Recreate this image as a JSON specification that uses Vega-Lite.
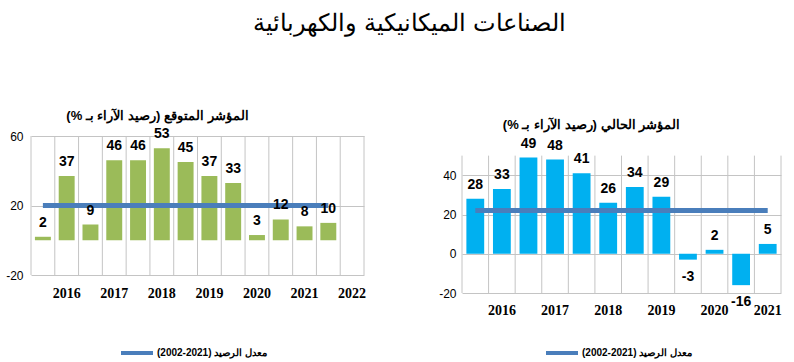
{
  "$schema": "https://vega.github.io/schema/vega-lite/v6.json",
  "padding": {"left": 5, "top": 12, "right": 5, "bottom": 0},
  "background": "white",
  "title": {"text": "الصناعات الميكانيكية والكهربائية", "font": "Liberation Sans", "fontSize": 24, "fontWeight": "normal", "color": "#000", "anchor": "middle", "offset": 74, "dx": 16},
  "config": {
    "view": {"stroke": null},
    "axis": {"domain": false, "ticks": false, "gridColor": "#c4c4c4", "gridWidth": 1, "labelColor": "#000"},
    "axisX": {"grid": false, "labelFont": "Liberation Serif", "labelFontSize": 14, "labelFontWeight": "bold", "labelAngle": 0},
    "axisY": {"grid": true, "labelFont": "Liberation Sans", "labelFontSize": 12, "labelPadding": 8, "labelOverlap": false}
  },
  "resolve": {"scale": {"color": "independent"}, "legend": {"color": "independent"}},
  "spacing": 72,
  "hconcat": [
    {
      "width": 333,
      "height": 139,
      "title": {"text": "‫المؤشر المتوقع (رصيد الآراء بـ %)‬", "font": "Liberation Sans", "fontSize": 13, "fontWeight": "bold", "color": "#000", "anchor": "middle", "frame": "group", "offset": 4, "dx": -40},
      "data": {"values": [
        {"period": "2015 S2", "value": 2, "avg": 20, "series": "معدل الرصيد (\u20662002-2021\u2069)\u200f"},
        {"period": "2016 S1", "value": 37, "avg": 20, "series": "معدل الرصيد (\u20662002-2021\u2069)\u200f"},
        {"period": "2016 S2", "value": 9, "avg": 20, "series": "معدل الرصيد (\u20662002-2021\u2069)\u200f"},
        {"period": "2017 S1", "value": 46, "avg": 20, "series": "معدل الرصيد (\u20662002-2021\u2069)\u200f"},
        {"period": "2017 S2", "value": 46, "avg": 20, "series": "معدل الرصيد (\u20662002-2021\u2069)\u200f"},
        {"period": "2018 S1", "value": 53, "avg": 20, "series": "معدل الرصيد (\u20662002-2021\u2069)\u200f"},
        {"period": "2018 S2", "value": 45, "avg": 20, "series": "معدل الرصيد (\u20662002-2021\u2069)\u200f"},
        {"period": "2019 S1", "value": 37, "avg": 20, "series": "معدل الرصيد (\u20662002-2021\u2069)\u200f"},
        {"period": "2019 S2", "value": 33, "avg": 20, "series": "معدل الرصيد (\u20662002-2021\u2069)\u200f"},
        {"period": "2020 S1", "value": 3, "avg": 20, "series": "معدل الرصيد (\u20662002-2021\u2069)\u200f"},
        {"period": "2020 S2", "value": 12, "avg": 20, "series": "معدل الرصيد (\u20662002-2021\u2069)\u200f"},
        {"period": "2021 S1", "value": 8, "avg": 20, "series": "معدل الرصيد (\u20662002-2021\u2069)\u200f"},
        {"period": "2021 S2", "value": 10, "avg": 20, "series": "معدل الرصيد (\u20662002-2021\u2069)\u200f"}
      ]},
      "encoding": {
        "x": {"field": "period", "type": "ordinal", "sort": null, "title": null,
          "scale": {"domain": ["2015 S2", "2016 S1", "2016 S2", "2017 S1", "2017 S2", "2018 S1", "2018 S2", "2019 S1", "2019 S2", "2020 S1", "2020 S2", "2021 S1", "2021 S2", "2022 S1"], "paddingInner": 0, "paddingOuter": 0},
          "axis": {"labelExpr": "indexof(datum.value, 'S1') > 0 ? slice(datum.value, 0, 4) : ''", "labelPadding": 11}}
      },
      "layer": [
        {"data": {"values": [{"period": "2015 S2"}, {"period": "2016 S1"}, {"period": "2016 S2"}, {"period": "2017 S1"}, {"period": "2017 S2"}, {"period": "2018 S1"}, {"period": "2018 S2"}, {"period": "2019 S1"}, {"period": "2019 S2"}, {"period": "2020 S1"}, {"period": "2020 S2"}, {"period": "2021 S1"}, {"period": "2021 S2"}, {"period": "2022 S1"}]},
         "mark": {"type": "rule", "color": "#c4c4c4", "strokeWidth": 1},
         "encoding": {"x": {"field": "period", "type": "ordinal", "sort": null, "bandPosition": 0, "title": null}, "y": {"datum": -20, "type": "quantitative"}, "y2": {"datum": 60}}},
        {"data": {"values": [{"period": "2022 S1"}]},
         "mark": {"type": "rule", "color": "#c4c4c4", "strokeWidth": 1},
         "encoding": {"x": {"field": "period", "type": "ordinal", "sort": null, "bandPosition": 1, "title": null}, "y": {"datum": -20, "type": "quantitative"}, "y2": {"datum": 60}}},
        {"mark": {"type": "bar", "color": "#9bbb59", "width": {"band": 0.67}},
         "encoding": {"y": {"field": "value", "type": "quantitative", "title": null, "scale": {"domain": [-20, 60]}, "axis": {"values": [-20, -10, 0, 10, 20, 30, 40, 50, 60], "labelExpr": "'' + datum.value", "labelOverlap": false, "title": null}}}},
        {"mark": {"type": "line", "strokeWidth": 5, "strokeCap": "butt"},
         "encoding": {"y": {"field": "avg", "type": "quantitative", "title": null, "axis": {"values": [-20, -10, 0, 10, 20, 30, 40, 50, 60], "labelExpr": "'' + datum.value", "labelOverlap": false, "title": null}},
           "color": {"field": "series", "type": "nominal", "scale": {"range": ["#4a7ebb"]},
             "legend": {"orient": "none", "legendX": 88, "legendY": 199, "title": null, "symbolType": "stroke", "symbolSize": 1024, "symbolStrokeWidth": 4, "labelFont": "Liberation Sans", "labelFontSize": 10, "labelFontWeight": "bold", "labelColor": "#000", "labelOffset": 2, "labelLimit": 300}}}},
        {"transform": [{"filter": "datum.value >= 0"}],
         "mark": {"type": "text", "font": "Liberation Sans", "fontSize": 14, "fontWeight": "bold", "color": "#000", "baseline": "alphabetic", "dy": -10},
         "encoding": {"y": {"field": "value", "type": "quantitative", "title": null, "axis": {"values": [-20, -10, 0, 10, 20, 30, 40, 50, 60], "labelExpr": "'' + datum.value", "labelOverlap": false, "title": null}}, "text": {"field": "value", "type": "nominal"}}}
      ]
    },
    {
      "width": 319,
      "height": 157,
      "title": {"text": "‫المؤشر الحالي (رصيد الآراء بـ %)‬", "font": "Liberation Sans", "fontSize": 13, "fontWeight": "bold", "color": "#000", "anchor": "middle", "frame": "group", "offset": 4, "dx": -30},
      "data": {"values": [
        {"period": "2015 S2", "value": 28, "avg": 22, "series": "معدل الرصيد (\u20662002-2021\u2069)\u200f"},
        {"period": "2016 S1", "value": 33, "avg": 22, "series": "معدل الرصيد (\u20662002-2021\u2069)\u200f"},
        {"period": "2016 S2", "value": 49, "avg": 22, "series": "معدل الرصيد (\u20662002-2021\u2069)\u200f"},
        {"period": "2017 S1", "value": 48, "avg": 22, "series": "معدل الرصيد (\u20662002-2021\u2069)\u200f"},
        {"period": "2017 S2", "value": 41, "avg": 22, "series": "معدل الرصيد (\u20662002-2021\u2069)\u200f"},
        {"period": "2018 S1", "value": 26, "avg": 22, "series": "معدل الرصيد (\u20662002-2021\u2069)\u200f"},
        {"period": "2018 S2", "value": 34, "avg": 22, "series": "معدل الرصيد (\u20662002-2021\u2069)\u200f"},
        {"period": "2019 S1", "value": 29, "avg": 22, "series": "معدل الرصيد (\u20662002-2021\u2069)\u200f"},
        {"period": "2019 S2", "value": -3, "avg": 22, "series": "معدل الرصيد (\u20662002-2021\u2069)\u200f"},
        {"period": "2020 S1", "value": 2, "avg": 22, "series": "معدل الرصيد (\u20662002-2021\u2069)\u200f"},
        {"period": "2020 S2", "value": -16, "avg": 22, "series": "معدل الرصيد (\u20662002-2021\u2069)\u200f"},
        {"period": "2021 S1", "value": 5, "avg": 22, "series": "معدل الرصيد (\u20662002-2021\u2069)\u200f"}
      ]},
      "encoding": {
        "x": {"field": "period", "type": "ordinal", "sort": null, "title": null,
          "scale": {"paddingInner": 0, "paddingOuter": 0},
          "axis": {"labelExpr": "indexof(datum.value, 'S1') > 0 ? slice(datum.value, 0, 4) : ''", "labelPadding": 10}}
      },
      "layer": [
        {"mark": {"type": "rule", "color": "#c4c4c4", "strokeWidth": 1},
         "encoding": {"x": {"field": "period", "type": "ordinal", "sort": null, "bandPosition": 0, "title": null}, "y": {"datum": -20, "type": "quantitative"}, "y2": {"datum": 50}}},
        {"transform": [{"filter": "datum.period == '2021 S1'"}],
         "mark": {"type": "rule", "color": "#c4c4c4", "strokeWidth": 1},
         "encoding": {"x": {"field": "period", "type": "ordinal", "sort": null, "bandPosition": 1, "title": null}, "y": {"datum": -20, "type": "quantitative"}, "y2": {"datum": 50}}},
        {"mark": {"type": "bar", "color": "#00b0f0", "width": {"band": 0.67}},
         "encoding": {"y": {"field": "value", "type": "quantitative", "title": null, "scale": {"domain": [-20, 60]}, "axis": {"values": [-20, -10, 0, 10, 20, 30, 40, 50], "labelExpr": "'' + datum.value", "labelOverlap": false, "labelPadding": 6, "title": null}}}},
        {"mark": {"type": "line", "strokeWidth": 5, "strokeCap": "butt"},
         "encoding": {"y": {"field": "avg", "type": "quantitative", "title": null, "axis": {"values": [-20, -10, 0, 10, 20, 30, 40, 50], "labelExpr": "'' + datum.value", "labelOverlap": false, "labelPadding": 6, "title": null}},
           "color": {"field": "series", "type": "nominal", "scale": {"range": ["#4a7ebb"]},
             "legend": {"orient": "none", "legendX": 82, "legendY": 199, "title": null, "symbolType": "stroke", "symbolSize": 1024, "symbolStrokeWidth": 4, "labelFont": "Liberation Sans", "labelFontSize": 10, "labelFontWeight": "bold", "labelColor": "#000", "labelOffset": 2, "labelLimit": 300}}}},
        {"transform": [{"filter": "datum.value >= 0"}],
         "mark": {"type": "text", "font": "Liberation Sans", "fontSize": 14, "fontWeight": "bold", "color": "#000", "baseline": "alphabetic", "dy": -10},
         "encoding": {"y": {"field": "value", "type": "quantitative", "title": null, "axis": {"values": [-20, -10, 0, 10, 20, 30, 40, 50], "labelExpr": "'' + datum.value", "labelOverlap": false, "labelPadding": 6, "title": null}}, "text": {"field": "value", "type": "nominal"}}},
        {"transform": [{"filter": "datum.value < 0"}],
         "mark": {"type": "text", "font": "Liberation Sans", "fontSize": 14, "fontWeight": "bold", "color": "#000", "baseline": "alphabetic", "dy": 21},
         "encoding": {"y": {"field": "value", "type": "quantitative", "title": null, "axis": {"values": [-20, -10, 0, 10, 20, 30, 40, 50], "labelExpr": "'' + datum.value", "labelOverlap": false, "labelPadding": 6, "title": null}}, "text": {"field": "value", "type": "nominal"}}}
      ]
    }
  ]
}
